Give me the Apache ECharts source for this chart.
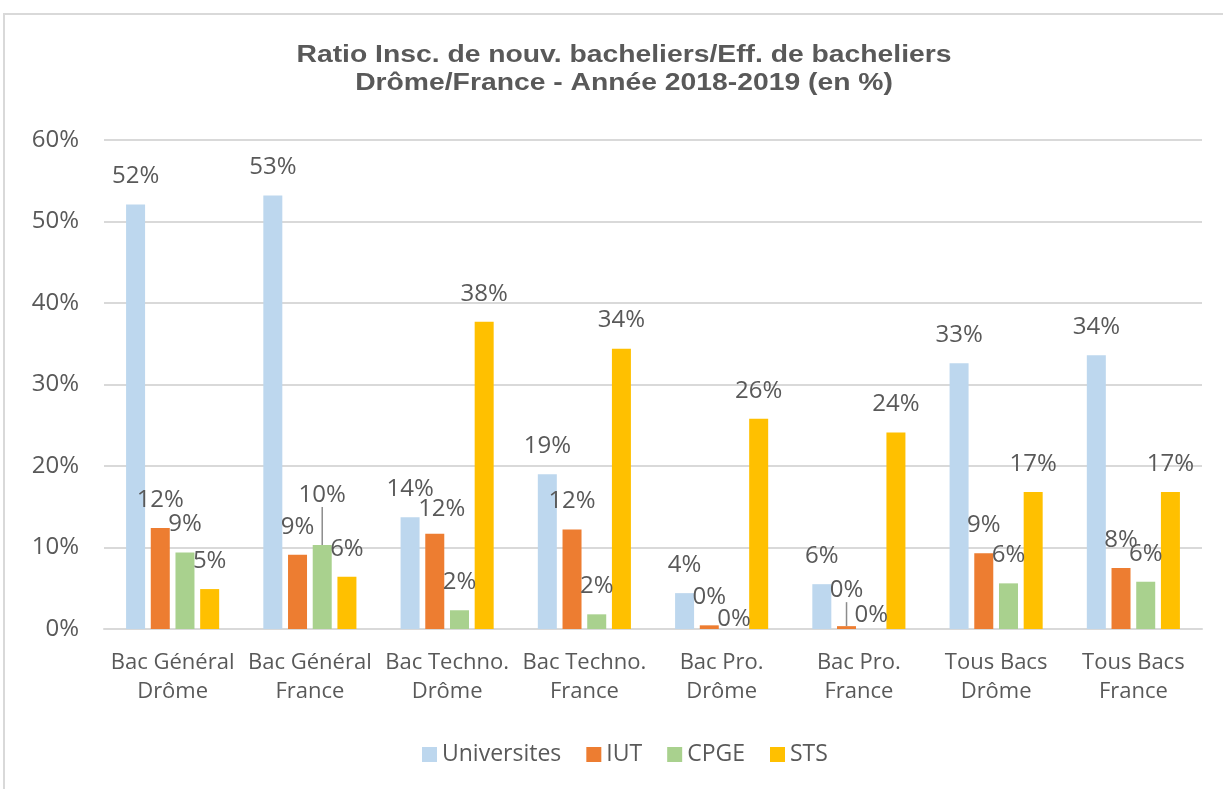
<!DOCTYPE html>
<html>
<head>
<meta charset="utf-8">
<title>Ratio Insc. de nouv. bacheliers</title>
<script src="https://cdn.jsdelivr.net/npm/echarts@6/dist/echarts.min.js"></script>
<style>
  html, body { margin: 0; padding: 0; background: #fff; }
  #chart { width: 1223px; height: 789px; }
</style>
</head>
<body>
<div id="chart"></div>
<script>
// catégories (axe x)
const categories = [
  'Bac Général\nDrôme', 'Bac Général\nFrance',
  'Bac Techno.\nDrôme', 'Bac Techno.\nFrance',
  'Bac Pro.\nDrôme', 'Bac Pro.\nFrance',
  'Tous Bacs\nDrôme', 'Tous Bacs\nFrance'
];

// valeurs (en %)
const universites = [52.1, 53.2, 13.7, 19.0, 4.4, 5.5, 32.6, 33.6];
const iut = [12.4, 9.1, 11.7, 12.2, 0.45, 0.35, 9.3, 7.5];
const cpge = [9.4, 10.3, 2.3, 1.8, 0, 0, 5.6, 5.8];
const sts = [4.9, 6.4, 37.7, 34.4, 25.8, 24.1, 16.8, 16.8];

const seriesNames = ['Universites', 'IUT', 'CPGE', 'STS'];
const seriesColors = ['#bdd7ee', '#ed7d31', '#a9d18e', '#ffc000'];
const seriesValues = [universites, iut, cpge, sts];

const titleLines = [
  'Ratio Insc. de nouv. bacheliers/Eff. de bacheliers',
  'Drôme/France - Année 2018-2019 (en %)'
];

const textColor = '#595959';

// étiquettes déplacées comme dans Excel : "série-catégorie" -> [dx, dy, ligne de rappel]
const labelShift = {
  '2-1': [0, -22, true],
  '1-2': [7, 4, false],
  '1-5': [0, -8, true],
  '2-4': [0, 18, false],
  '2-5': [0, 14, false]
};

const chart = echarts.init(document.getElementById('chart'));

const option = {
  animation: false,
  legend: {
    top: 738,
    left: 417,
    itemWidth: 15,
    itemHeight: 15,
    itemGap: 25,
    icon: 'rect',
    textStyle: { fontFamily: '"Open Sans"', fontSize: 23, color: textColor }
  },
  grid: {
    left: 104,
    right: 21,
    top: 140,
    bottom: 160
  },
  xAxis: {
    type: 'category',
    data: categories,
    axisLine: { lineStyle: { color: '#d9d9d9', width: 2 } },
    axisTick: { show: false },
    axisLabel: {
      interval: 0,
      margin: 19,
      fontFamily: '"Open Sans"',
      fontSize: 22,
      lineHeight: 29,
      color: textColor
    }
  },
  yAxis: {
    type: 'value',
    min: 0,
    max: 60,
    interval: 10,
    axisLine: { show: false },
    axisTick: { show: false },
    splitLine: { lineStyle: { color: '#d9d9d9', width: 2 } },
    axisLabel: {
      margin: 25,
      formatter: '{value}%',
      fontFamily: '"Open Sans"',
      fontSize: 24,
      color: textColor
    }
  },
  graphic: [
    {
      type: 'rect',
      shape: { x: 4, y: 14, width: 1240, height: 800 },
      style: { fill: null, stroke: '#d9d9d9', lineWidth: 2 },
      silent: true
    }
  ].concat(titleLines.map((t, i) => ({
    type: 'text',
    x: 624,
    y: 56 + i * 28,
    scaleX: 1.23,
    silent: true,
    style: {
      text: t,
      align: 'center',
      verticalAlign: 'middle',
      fontFamily: '"Liberation Sans", Arial, sans-serif',
      fontSize: 23,
      fontWeight: 'bold',
      fill: textColor
    }
  }))),
  series: seriesNames.map((name, i) => ({
    name: name,
    type: 'bar',
    data: seriesValues[i].map((v, j) => {
      const s = labelShift[i + '-' + j];
      return s && s[2] ? { value: v, labelLine: { show: true } } : v;
    }),
    barWidth: 19,
    barGap: '30%',
    itemStyle: { color: seriesColors[i] },
    label: {
      show: true,
      position: 'top',
      distance: 16,
      formatter: p => Math.round(p.value) + '%',
      fontFamily: '"Open Sans"',
      fontSize: 24,
      color: textColor
    },
    labelLine: {
      show: false,
      lineStyle: { color: '#8c8c8c', width: 1.5 }
    },
    labelLayout: p => {
      const s = labelShift[p.seriesIndex + '-' + p.dataIndex];
      return s ? { dx: s[0], dy: s[1] } : {};
    }
  }))
};

chart.setOption(option);
</script>
</body>
</html>
